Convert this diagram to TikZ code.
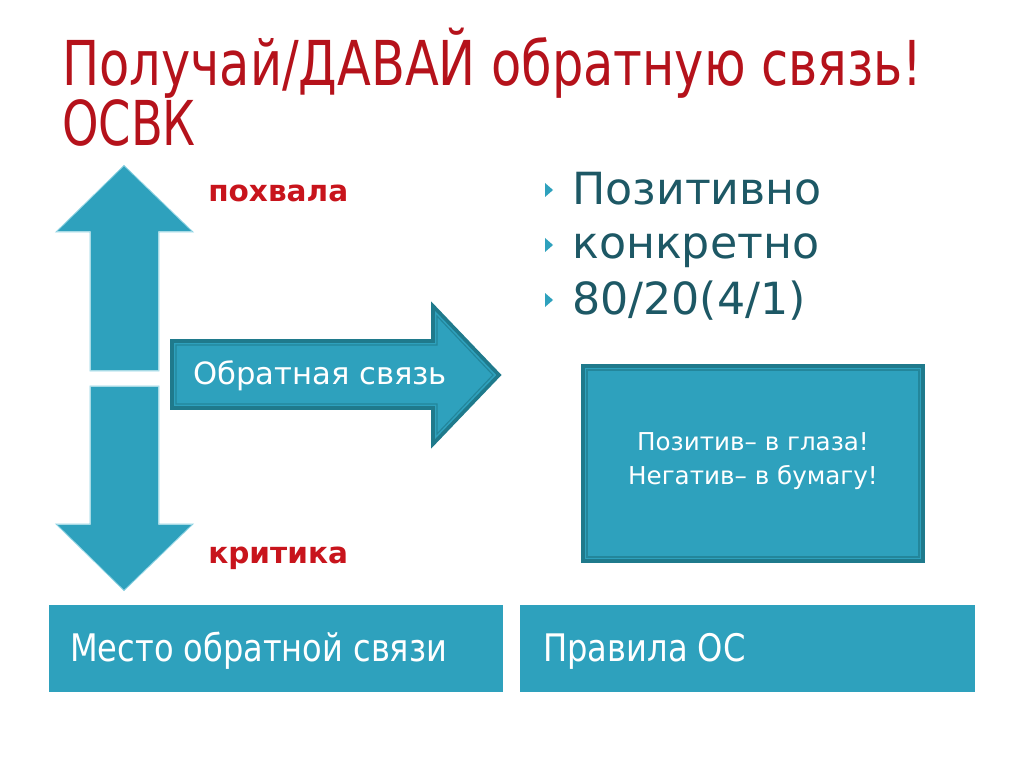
\documentclass[tikz,border=0pt]{standalone}
\usepackage{fontspec}
\setmainfont{DejaVu Sans}
\newfontfamily\condfont{DejaVu Sans Condensed}
\usetikzlibrary{positioning}
\definecolor{teal1}{HTML}{2EA1BD}
\definecolor{tealdark}{HTML}{1F7A8C}
\definecolor{tealedge}{HTML}{8ED3E3}
\definecolor{titlered}{HTML}{B5121B}
\definecolor{labelred}{HTML}{C8141C}
\definecolor{bullettext}{HTML}{1D5865}
\tikzset{
  vert arrow/.style={fill=teal1, draw=white, line width=2.2pt, line join=miter},
  vert edge/.style={draw=tealedge, line width=0.6pt, line join=miter},
  dark shape/.style={fill=teal1, draw=tealdark, line width=2.6pt, line join=miter},
  inner edge/.style={draw=tealdark!70!teal1, line width=0.8pt},
  titletext/.style={text=titlered, anchor=base west, inner sep=0pt, font=\condfont\fontsize{44}{52}\selectfont},
  redlabel/.style={text=labelred, anchor=base west, inner sep=0pt, font=\bfseries\fontsize{21}{25}\selectfont},
  bullettxt/.style={text=bullettext, anchor=base west, inner sep=0pt, font=\fontsize{31.5}{38}\selectfont},
  bulletmark/.style={fill=teal1, draw=none},
  bottombox/.style={fill=teal1, draw=none},
  bottomtext/.style={text=white, anchor=base west, inner sep=0pt, font=\condfont\fontsize{27}{32}\selectfont},
}
\begin{document}
\begin{tikzpicture}[x=0.025cm,y=-0.025cm]
\useasboundingbox (0,0) rectangle (1024,767);
\fill[white] (0,0) rectangle (1024,767);

% title
\node[titletext] (t1) at (62,86) {\resizebox{612pt}{\height}{Получай/ДАВАЙ обратную связь!}};
\node[titletext] (t2) at (62,146) {\resizebox{95pt}{\height}{ОСВК}};

% up arrow
\path[vert arrow] (124,163) -- (196,233) -- (160,233) -- (160,372) -- (89,372) -- (89,233) -- (53,233) -- cycle;
\path[vert edge] (124,165.5) -- (193,232) -- (159,232) -- (159,371) -- (90,371) -- (90,232) -- (56,232) -- cycle;
% down arrow
\path[vert arrow] (89,385) -- (160,385) -- (160,523) -- (196,523) -- (124,593) -- (53,523) -- (89,523) -- cycle;
\path[vert edge] (90,386) -- (159,386) -- (159,524) -- (193,524) -- (124,590.5) -- (56,524) -- (90,524) -- cycle;

% right arrow
\path[dark shape] (172,341) -- (433,341) -- (433,306) -- (499,375) -- (433,444) -- (433,408) -- (172,408) -- cycle;
\path[inner edge] (176,345) -- (437,345) -- (437,316) -- (493,375) -- (437,434) -- (437,404) -- (176,404) -- cycle;
\node[text=white, inner sep=0pt, font=\fontsize{21.8}{26}\selectfont] (fb) at (320,376) {Обратная связь};

% red labels
\node[redlabel] (praise) at (208,202) {похвала};
\node[redlabel] (critic) at (208,563) {критика};

% bullets
\foreach \y/\n in {190/b1,245/b2,300/b3}{
  \path[bulletmark] (545,\y-7) -- (553,\y) -- (545,\y+7) -- cycle;
}
\node[bullettxt] (l1) at (572,205) {Позитивно};
\node[bullettxt] (l2) at (572,259) {конкретно};
\node[bullettxt] (l3) at (572,314) {80/20(4/1)};

% rules box
\path[dark shape] (583,366) rectangle (923,561);
\path[inner edge] (587,370) rectangle (919,557);
\node[text=white, align=center, inner sep=0pt, font=\fontsize{17.5}{24.5}\selectfont] (rules) at (753,461) {Позитив– в глаза!\\Негатив– в бумагу!};

% bottom boxes
\path[bottombox] (49,605) rectangle (503,692);
\path[bottombox] (520,605) rectangle (975,692);
\node[bottomtext] (place) at (70,661) {\resizebox{268pt}{\height}{Место обратной связи}};
\node[bottomtext] (ruleshead) at (543,661) {\resizebox{144pt}{\height}{Правила ОС}};
\end{tikzpicture}
\end{document}
